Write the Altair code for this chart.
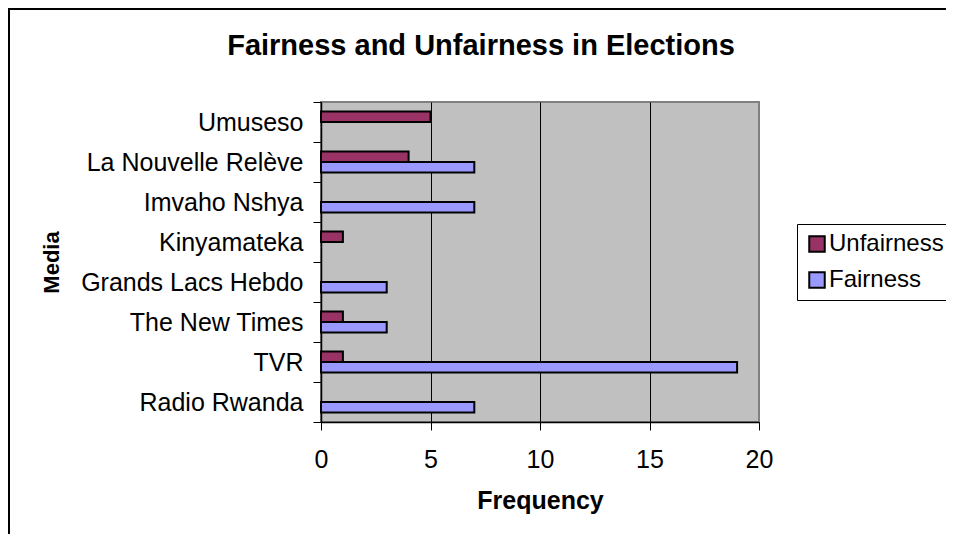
import altair as alt
import pandas as pd

media = ["Umuseso", "La Nouvelle Relève", "Imvaho Nshya", "Kinyamateka",
         "Grands Lacs Hebdo", "The New Times", "TVR", "Radio Rwanda"]
unfairness = [5, 4, 0, 1, 0, 1, 1, 0]
fairness = [0, 7, 7, 0, 3, 3, 19, 7]
series = ["Unfairness", "Fairness"]
colors = ["#993366", "#9999FF"]
x_ticks = [0, 5, 10, 15, 20]

rows = []
for m, u, f in zip(media, unfairness, fairness):
    rows.append({"Media": m, "Series": "Unfairness", "Frequency": u})
    rows.append({"Media": m, "Series": "Fairness", "Frequency": f})
df = pd.DataFrame(rows)

FONT = "Liberation Sans, Arial, sans-serif"

bars = alt.Chart(df).transform_filter("datum.Frequency > 0").mark_bar(
    stroke="black", strokeWidth=2, strokeJoin="miter"
).encode(
    y=alt.Y("Media:N", sort=media,
            scale=alt.Scale(domain=media, paddingInner=0, paddingOuter=0),
            axis=alt.Axis(title="Media", tickBand="extent", grid=False,
                          domainColor="black", domainWidth=1.5, tickColor="black", tickSize=8,
                          labelFontSize=25, labelFont=FONT, labelColor="black",
                          labelPadding=10, labelBaseline="middle", labelLimit=400,
                          titleAngle=270, titleX=-269.5, titleY=160,
                          titleAlign="center", titleBaseline="middle",
                          titleFontSize=22, titleFont=FONT, titleFontWeight="bold",
                          titleColor="black")),
    yOffset=alt.YOffset("Series:N", sort=series,
                        scale=alt.Scale(domain=series, paddingInner=0, paddingOuter=0.9)),
    x=alt.X("Frequency:Q", scale=alt.Scale(domain=[0, 20], nice=False),
            axis=alt.Axis(values=x_ticks, title="Frequency", grid=True,
                          gridColor={"condition": {"test": "datum.value === 20", "value": "#808080"}, "value": "black"},
                          gridWidth=1, domainColor="black", domainWidth=1.5,
                          tickColor="black", tickSize=8, format="d",
                          labelFontSize=25, labelFont=FONT, labelColor="black",
                          labelBaseline="alphabetic", labelPadding=37, labelFlush=False,
                          titleFontSize=25, titleFont=FONT, titleFontWeight="bold",
                          titleColor="black", titleBaseline="alphabetic", titleY=86)),
    color=alt.Color("Series:N", sort=series,
                    scale=alt.Scale(domain=series, range=colors),
                    legend=alt.Legend(title=None, orient="none", legendX=476, legendY=122,
                                      strokeColor="black", fillColor="white", padding=8,
                                      symbolType="square", symbolSize=240,
                                      symbolStrokeColor="black", symbolStrokeWidth=2,
                                      symbolOpacity=1, labelFontSize=24, labelFont=FONT,
                                      labelColor="black", labelOffset=0, rowPadding=12)),
)

frame_df = pd.DataFrame({"k": [0]})
frame_left = alt.Chart(frame_df).mark_rule(color="black", strokeWidth=2).encode(
    x=alt.value(-312), x2=alt.value(-312), y=alt.value(-94), y2=alt.value(440))
frame_top = alt.Chart(frame_df).mark_rule(color="black", strokeWidth=2).encode(
    x=alt.value(-313), x2=alt.value(625), y=alt.value(-93), y2=alt.value(-93))

chart = alt.layer(bars, frame_left, frame_top).properties(
    width=438, height=320,
    autosize=alt.AutoSizeParams(type="none"),
    padding={"left": 313, "top": 94, "right": 187, "bottom": 112},
    title=alt.Title("Fairness and Unfairness in Elections", fontSize=29,
                    fontWeight="bold", font=FONT, anchor="middle", dx=-59,
                    baseline="alphabetic", offset=-77, color="black"),
).configure_view(fill="#C0C0C0", stroke="#808080", strokeWidth=2)

chart.save("out.html", embed_options={"renderer": "svg", "actions": False})
